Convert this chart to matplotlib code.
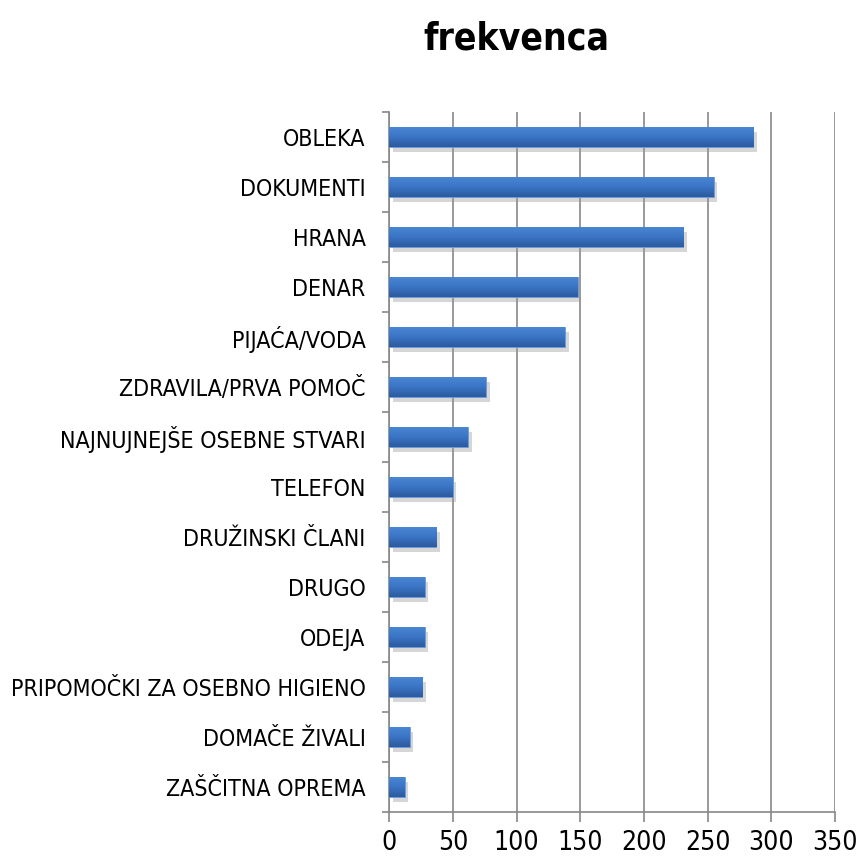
import matplotlib
matplotlib.use("Agg")
import matplotlib.pyplot as plt
import matplotlib.patheffects as pe
from matplotlib.colors import LinearSegmentedColormap
import numpy as np
from matplotlib import font_manager

categories = ["OBLEKA", "DOKUMENTI", "HRANA", "DENAR", "PIJAĆA/VODA",
              "ZDRAVILA/PRVA POMOČ", "NAJNUJNEJŠE OSEBNE STVARI", "TELEFON",
              "DRUŽINSKI ČLANI", "DRUGO", "ODEJA", "PRIPOMOČKI ZA OSEBNO HIGIENO",
              "DOMAČE ŽIVALI", "ZAŠČITNA OPREMA"]
values = [286, 255, 231, 148, 138, 76, 62, 50, 37, 28, 28, 26, 16, 12]
xticks = [0, 50, 100, 150, 200, 250, 300, 350]
title = "frekvenca"

# choose the most condensed installed sans face, otherwise Liberation Sans
stretch_num = {'ultra-condensed': 100, 'extra-condensed': 200, 'condensed': 300,
               'semi-condensed': 400, 'normal': 500}
best = None
for f in font_manager.fontManager.ttflist:
    st = f.stretch
    sv = stretch_num.get(st, st if isinstance(st, (int, float)) else 500)
    if 'ondensed' in f.name or 'Narrow' in f.name:
        sv = min(sv, 300)
    if sv < 500 and f.style == 'normal' and sv >= 200:
        if best is None or sv < best[0]:
            best = (sv, f)
if best is not None:
    fam = [best[1].name, 'DejaVu Sans']
    stretch = best[1].stretch
else:
    fam = ['Liberation Sans', 'DejaVu Sans']
    stretch = 'normal'
plt.rcParams['font.family'] = fam
plt.rcParams['font.stretch'] = stretch

fig = plt.figure(figsize=(8.57, 8.67), dpi=100)
renderer = fig.canvas.get_renderer()

def fit_size(s, target_w, base=20, weight='normal'):
    t = fig.text(0, 0, s, fontsize=base, fontweight=weight)
    w = t.get_window_extent(renderer).width
    t.remove()
    return min(base, base * target_w / w)

lab_fs = fit_size("PRIPOMOČKI ZA OSEBNO HIGIENO", 358)
tick_fs = 19
title_fs = fit_size(title, 186, base=31, weight='bold')

ax = fig.add_axes([0.4543, 0.0638, 0.5200, 0.8070])

n = len(categories)
y = np.arange(n)
bh = 0.4
bars = ax.barh(y, values, height=bh, color="#3769B8", edgecolor="#6A9BE0",
               linewidth=0.6, zorder=3)
cmap = LinearSegmentedColormap.from_list("g", ["#4A86D4", "#3A74C4", "#2C5A9E"])
grad = np.linspace(0, 1, 64).reshape(-1, 1)
for b, yi, v in zip(bars, y, values):
    b.set_path_effects([pe.SimplePatchShadow(offset=(2.5, -3.5), shadow_rgbFace="#9a9a9a", alpha=0.4), pe.Normal()])
    im = ax.imshow(grad, extent=[0, v, yi + bh / 2, yi - bh / 2], aspect='auto',
                   cmap=cmap, zorder=4, interpolation='bilinear')
    im.set_clip_path(b)

ax.set_ylim(n - 0.5, -0.5)
ax.set_xlim(0, 350)
ax.set_aspect('auto')
ax.set_xticks(xticks)
ax.set_xticklabels([str(t) for t in xticks], fontsize=tick_fs)
ax.set_yticks(y)
ax.set_yticklabels(categories, fontsize=lab_fs)
ax.set_yticks(np.arange(-0.5, n, 1.0), minor=True)
ax.tick_params(axis='y', which='major', length=0, pad=17)
ax.tick_params(axis='y', which='minor', length=5, color="#888888", width=1.2, direction='out')
ax.tick_params(axis='x', which='major', length=7, color="#888888", width=1.2, pad=6)

ax.grid(axis='x', color="#888888", linewidth=1.2, zorder=0)
for s in ["top", "right"]:
    ax.spines[s].set_visible(False)
for s in ["left", "bottom"]:
    ax.spines[s].set_color("#888888")
    ax.spines[s].set_linewidth(1.2)

fig.text(0.603, 0.955, title, fontsize=title_fs, fontweight='bold', ha='center', va='center')

fig.savefig("out.png", dpi=100, facecolor="white")
